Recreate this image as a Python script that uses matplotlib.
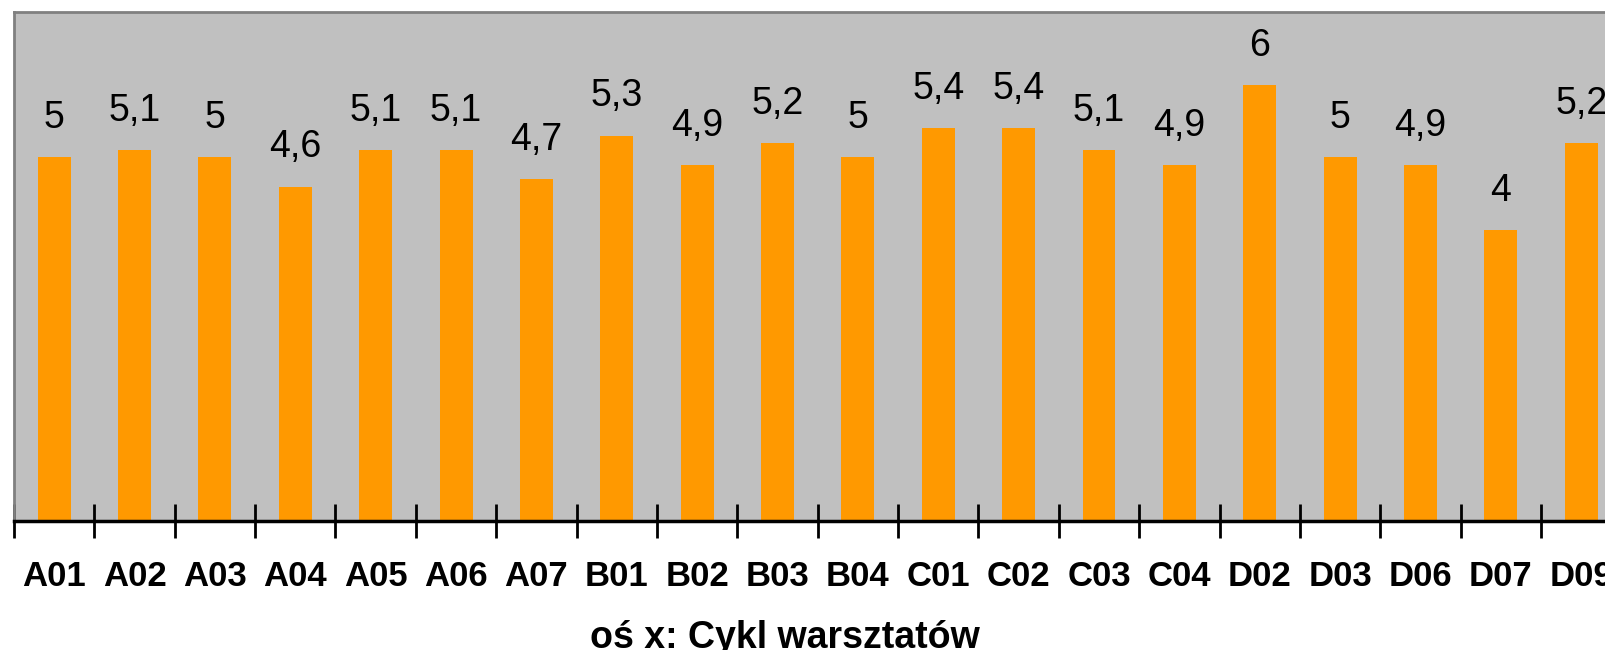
import matplotlib
matplotlib.use('Agg')
import matplotlib.pyplot as plt
import numpy as np

categories = ['A01', 'A02', 'A03', 'A04', 'A05', 'A06', 'A07', 'B01', 'B02', 'B03',
              'B04', 'C01', 'C02', 'C03', 'C04', 'D02', 'D03', 'D06', 'D07', 'D09']
values = [5, 5.1, 5, 4.6, 5.1, 5.1, 4.7, 5.3, 4.9, 5.2,
          5, 5.4, 5.4, 5.1, 4.9, 6, 5, 4.9, 4, 5.2]
x_label = 'oś x: Cykl warsztatów'

plt.rcParams['font.family'] = ['Liberation Sans', 'DejaVu Sans']

W, H = 1605, 650
fig = plt.figure(figsize=(W / 100, H / 100), dpi=100)

# plot area runs past the right edge of the picture (cropped chart)
left_px, right_px, top_px, bottom_px = 14, 14 + 20 * 80.37, 12, 521
ax = fig.add_axes([left_px / W, (H - bottom_px) / H,
                   (right_px - left_px) / W, (bottom_px - top_px) / H])
ax.set_facecolor('#C0C0C0')

x = np.arange(len(categories))
ax.bar(x, values, width=0.41, color='#FF9900', zorder=2)

for xi, v in zip(x, values):
    ax.annotate(f'{v:g}'.replace('.', ','), (xi, v), xytext=(0, 21),
                textcoords='offset points', ha='center', va='baseline',
                fontsize=27, color='black')

ax.set_xlim(-0.5, len(categories) - 0.5)
ax.set_ylim(0, 7)
ax.set_yticks([])

ax.set_xticks(x)
ax.set_xticklabels(categories, fontsize=25, fontweight='bold')
ax.tick_params(axis='x', which='major', length=0, pad=28)
ax.set_xticks(np.arange(len(categories) + 1) - 0.5, minor=True)
ax.tick_params(axis='x', which='minor', direction='inout', length=25,
               width=2, color='black')

for side in ['top', 'left']:
    ax.spines[side].set_color('#808080')
    ax.spines[side].set_linewidth(2)
ax.spines['right'].set_visible(False)
ax.spines['bottom'].set_color('black')
ax.spines['bottom'].set_linewidth(2.5)

fig.text(785 / W, 1 - 648 / H, x_label, ha='center', va='baseline',
         fontsize=27, fontweight='bold')

plt.savefig('out.png', dpi=100)
plt.close()
